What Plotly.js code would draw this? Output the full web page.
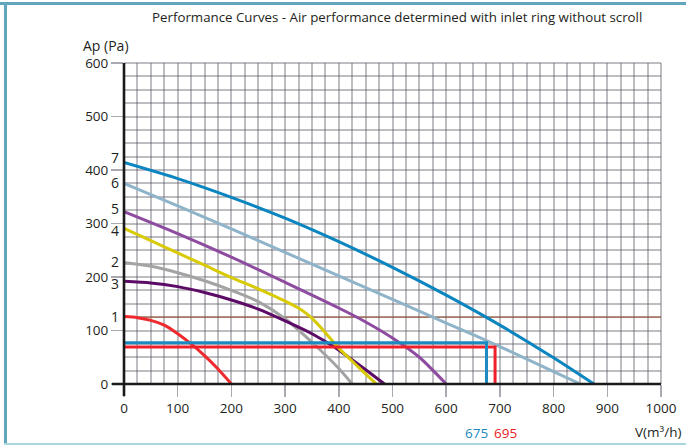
<!DOCTYPE html>
<html><head><meta charset="utf-8">
<script src="https://cdn.plot.ly/plotly-3.0.1.min.js"></script>
<style>
html,body{margin:0;padding:0;background:#fff;}
#wrap{position:relative;width:686px;height:445px;overflow:hidden;}
#chart{width:686px;height:445px;}
.b{position:absolute;}
</style></head><body>
<div id="wrap"><div id="chart"></div>
<div class="b" style="left:0;top:2px;width:686px;height:3px;background:#62a6bd"></div>
<div class="b" style="left:4px;top:2px;width:3px;height:443px;background:#62a6bd"></div>
<div class="b" style="left:4px;top:443px;width:682px;height:2px;background:#a9d6df"></div>
</div>
<script>
// ---- data ----
const curveNames = ['1','2','3','4','5','6','7'];
const curve1X = [0,25,50,75,100,125,150,175,200];
const curve1Y = [126,124,119,110,94,75,53,28,0];
const curve2X = [0,50,100,150,200,250,300,350,400,425];
const curve2Y = [227,220,208,193,175,154,122,78,29,0];
const curve3X = [0,50,100,150,200,250,300,350,390,440,485];
const curve3Y = [192,189,182,171,157,140,118,94,70,34,0];
const curve4X = [0,50,100,150,200,250,300,330,350,375,400,435,470];
const curve4Y = [291,268,245,222,199,178,155,139,123,96,67,33,0];
const curve5X = [0,100,200,300,400,450,500,550,600];
const curve5Y = [322,281,237,190,142,116,86,50,0];
const curve6X = [0,100,200,300,400,500,600,700,800,850];
const curve6Y = [375,333,290,246,202,158,114,70,23,0];
const curve7X = [0,100,200,300,400,500,600,700,800,875];
const curve7Y = [414,384,349,310,266,218,166,110,49,0];
const refLineX = [0,1000];
const refLineY = [125,125];
const opFlow = [675,691];
const opPressure = [77,69];
const opLabels = ['675','695'];

// ---- styles / positions ----
const curveColors = ['#ef2a2f','#a3a3a3','#5c0c66','#d8ca05','#8e4ca0','#8fb3c8','#0b85bf'];
const labelY = [127,229,188,286,328,376,424];
const opColors = ['#1a8ac0','#f0202a'];
const gridC = 'rgba(90,90,102,0.4)';
const txt = '#231f20';
const font = 'Open Sans, sans-serif';

const cx = [curve1X,curve2X,curve3X,curve4X,curve5X,curve6X,curve7X];
const cy = [curve1Y,curve2Y,curve3Y,curve4Y,curve5Y,curve6Y,curve7Y];

const traces = [];
traces.push({x:refLineX,y:refLineY,mode:'lines',line:{color:'#a0522d',width:1},hoverinfo:'skip'});
for (let i=0;i<cx.length;i++){
  traces.push({x:cx[i],y:cy[i],mode:'lines',name:curveNames[i],
    line:{color:curveColors[i],width:3,shape:'spline',smoothing:0.7},hoverinfo:'skip'});
}
for (let k of [1,0]){
  traces.push({x:[0,opFlow[k],opFlow[k]],y:[opPressure[k],opPressure[k],0],mode:'lines',
    line:{color:opColors[k],width:3},hoverinfo:'skip'});
}

const annotations = [];
for (let i=0;i<curveNames.length;i++){
  annotations.push({x:0,y:labelY[i],xref:'x',yref:'y',text:curveNames[i],showarrow:false,
    xanchor:'right',yanchor:'middle',xshift:-3,font:{family:font,size:14,color:txt}});
}
annotations.push({x:opFlow[0]+6,y:-0.1517,xref:'x',yref:'paper',text:opLabels[0],showarrow:false,
  xanchor:'right',yanchor:'middle',font:{family:font,size:13.5,color:opColors[0]}});
annotations.push({x:opFlow[0]+11,y:-0.1517,xref:'x',yref:'paper',text:opLabels[1],showarrow:false,
  xanchor:'left',yanchor:'middle',font:{family:font,size:13.5,color:opColors[1]}});
annotations.push({x:1.041,y:-0.15,xref:'paper',yref:'paper',text:'V(m³/h)',showarrow:false,
  xanchor:'right',yanchor:'middle',font:{family:font,size:13.5,color:txt}});
annotations.push({x:-0.08,y:1.053,xref:'paper',yref:'paper',text:'Ap (Pa)',showarrow:false,
  xanchor:'left',yanchor:'middle',font:{family:font,size:14,color:txt}});

const axisCommon = {
  tickmode:'linear',tick0:0,dtick:100,
  ticks:'outside',ticklen:12,tickwidth:1.5,tickcolor:'#a9a9b1',
  showgrid:true,gridcolor:gridC,gridwidth:2,
  minor:{tickmode:'linear',tick0:0,dtick:25,showgrid:true,gridcolor:gridC,gridwidth:2,ticks:''},
  showline:false,zeroline:false,fixedrange:true,
  tickfont:{family:font,size:13.5,color:txt}
};

const layout = {
  width:686,height:445,
  margin:{l:124,r:25,t:63,b:61,pad:0},
  paper_bgcolor:'#ffffff',plot_bgcolor:'#ffffff',
  showlegend:false,
  title:{text:'Performance Curves - Air performance determined with inlet ring without scroll',
    xref:'container',x:0.579,xanchor:'center',yref:'container',y:0.962,yanchor:'middle',
    font:{family:font,size:13.3,color:txt}},
  xaxis:Object.assign({},axisCommon,{range:[0,1000]}),
  yaxis:Object.assign({},axisCommon,{range:[0,600]}),
  annotations:annotations,
  shapes:[
    // edge grid lines that Plotly omits at the range ends
    {type:'line',xref:'paper',yref:'paper',x0:0,x1:1,y0:1,y1:1,line:{color:gridC,width:2},layer:'below'},
    {type:'line',xref:'paper',yref:'paper',x0:1,x1:1,y0:0,y1:1,line:{color:gridC,width:2},layer:'below'},
    {type:'line',xref:'paper',yref:'paper',x0:-0.0223,x1:1,y0:0,y1:0,line:{color:'#1a1a1a',width:2.6},layer:'above'},
    {type:'line',xref:'paper',yref:'paper',x0:0,x1:0,y0:-0.0374,y1:1,line:{color:'#1a1a1a',width:2.6},layer:'above'}
  ]
};

Plotly.newPlot('chart',traces,layout,{staticPlot:true,displayModeBar:false});
</script>
</body></html>
